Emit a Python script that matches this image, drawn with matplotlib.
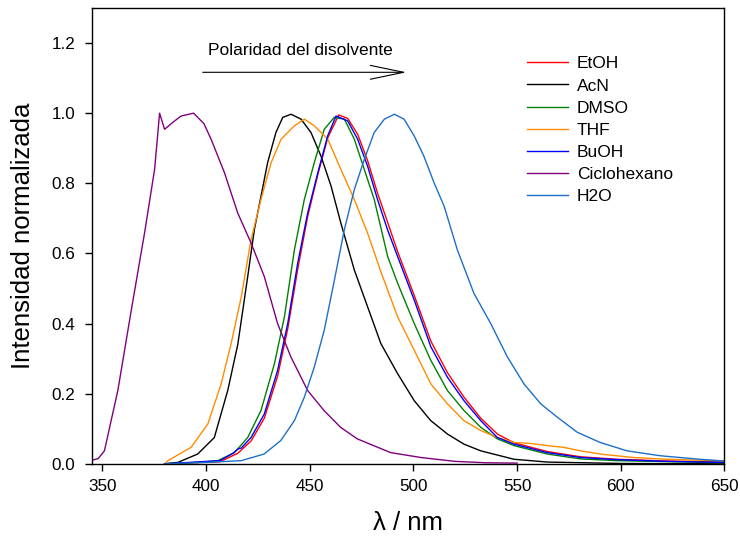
import matplotlib
matplotlib.use("Agg")
import matplotlib.pyplot as plt

plt.rcParams['font.family'] = ['Liberation Sans', 'DejaVu Sans']

# --- data ---
x_ciclo = [345, 348, 351, 357.5, 364, 370.4, 375.2, 377.6, 380, 384, 388, 394, 399, 402.5, 408.9,
           415.3, 421.7, 428.1, 434.5, 440.9, 449, 456.9, 464.9, 473, 489, 503.6, 520, 535, 550]
y_ciclo = [0.01, 0.015, 0.037, 0.21, 0.44, 0.66, 0.84, 1.0, 0.954, 0.974, 0.992, 1.0, 0.97, 0.925, 0.83,
           0.715, 0.63, 0.534, 0.40, 0.305, 0.209, 0.152, 0.104, 0.071, 0.032, 0.018, 0.007, 0.003, 0.002]

x_acn = [380, 386.4, 396, 404, 410.5, 415.3, 420.1, 423.3, 426.5, 429.7, 433.7, 437, 441, 445.8, 450.6,
         455.4, 460.3, 465, 471.5, 477.9, 484.3, 492.4, 500.4, 508.4, 516.4, 524.4, 532.5, 548.5, 564.5, 600, 650]
y_acn = [0.0, 0.004, 0.028, 0.075, 0.21, 0.34, 0.534, 0.668, 0.763, 0.859, 0.945, 0.988, 0.997, 0.983, 0.945,
         0.878, 0.792, 0.687, 0.553, 0.448, 0.343, 0.257, 0.18, 0.123, 0.085, 0.056, 0.037, 0.013, 0.005, 0.001, 0.0]

x_thf = [380, 381.6, 392.8, 400.9, 407.3, 412.1, 417, 421.7, 426.5, 431.4, 436.2, 442.6, 447.4, 452.2, 458.7,
         465, 471.5, 477.9, 484.3, 492.4, 500.4, 508.4, 516.4, 524.4, 532.5, 540.5, 548.5, 556.5, 564.5,
         572.5, 580.6, 590, 606, 622, 646, 650]
y_thf = [0.0, 0.009, 0.047, 0.114, 0.228, 0.343, 0.476, 0.639, 0.754, 0.859, 0.926, 0.964, 0.983, 0.964, 0.926,
         0.84, 0.754, 0.658, 0.548, 0.419, 0.324, 0.228, 0.171, 0.123, 0.095, 0.075, 0.061, 0.058, 0.052,
         0.047, 0.037, 0.028, 0.018, 0.013, 0.009, 0.008]

x_dmso = [380, 396, 405.7, 413.7, 420.1, 426.5, 433, 437.8, 442.6, 447.4, 452.2, 457, 461.8, 466.7, 471.5,
          476.3, 481.1, 487.6, 492.4, 500.4, 508.4, 516.4, 524.4, 532.5, 540.5, 548.5, 564.5, 580.6, 598, 650]
y_dmso = [0.0, 0.004, 0.009, 0.032, 0.075, 0.152, 0.286, 0.419, 0.61, 0.754, 0.859, 0.954, 0.988, 0.983, 0.926,
          0.84, 0.754, 0.591, 0.515, 0.40, 0.295, 0.209, 0.152, 0.104, 0.071, 0.052, 0.028, 0.014, 0.009, 0.003]

x_buoh = [380, 406.7, 413, 415.3, 417, 421.7, 428.1, 434.5, 439.4, 444.2, 449, 453.9, 458.7, 462.7, 468.3,
          473.1, 477.9, 482.7, 487.5, 492.4, 500.4, 508.4, 516.4, 524.4, 532.5, 540.5, 548.5, 564.5, 580.6,
          598, 622, 650]
y_buoh = [0.0, 0.009, 0.03, 0.042, 0.045, 0.075, 0.142, 0.266, 0.40, 0.572, 0.715, 0.83, 0.936, 0.992, 0.978,
          0.926, 0.849, 0.754, 0.668, 0.591, 0.467, 0.334, 0.247, 0.18, 0.123, 0.075, 0.056, 0.032, 0.018,
          0.012, 0.007, 0.004]

x_etoh = [380, 406.7, 415.3, 421.7, 428.1, 434.5, 439.4, 444.2, 449, 453.9, 458.7, 464, 468.3,
          473.1, 477.9, 482.7, 487.5, 492.4, 500.4, 508.4, 516.4, 524.4, 532.5, 540.5, 548.5, 564.5, 580.6,
          598, 622, 650]
y_etoh = [0.0, 0.006, 0.03, 0.065, 0.13, 0.25, 0.385, 0.555, 0.705, 0.825, 0.93, 0.995, 0.985,
          0.94, 0.865, 0.772, 0.69, 0.605, 0.48, 0.35, 0.26, 0.19, 0.13, 0.085, 0.06, 0.035, 0.02,
          0.013, 0.008, 0.005]

x_h2o = [380, 400, 417, 428, 436, 442.6, 447.4, 452.2, 457, 461.9, 466.7, 471.5, 476.3, 481.1, 486, 490.8,
         495.5, 500.4, 505, 510, 514.8, 521.2, 529.2, 537.3, 545.3, 553.3, 561.4, 569.4, 579, 590, 603, 619,
         638, 650]
y_h2o = [0.0, 0.004, 0.009, 0.028, 0.066, 0.123, 0.19, 0.276, 0.381, 0.524, 0.668, 0.782, 0.868, 0.945, 0.983, 0.997,
         0.983, 0.935, 0.878, 0.801, 0.735, 0.61, 0.486, 0.40, 0.305, 0.228, 0.171, 0.133, 0.09, 0.061, 0.037, 0.023,
         0.013, 0.008]

series = [
    ("EtOH", x_etoh, y_etoh, "#ff0000"),
    ("AcN", x_acn, y_acn, "#000000"),
    ("DMSO", x_dmso, y_dmso, "#008000"),
    ("THF", x_thf, y_thf, "#ff8c00"),
    ("BuOH", x_buoh, y_buoh, "#0000ff"),
    ("Ciclohexano", x_ciclo, y_ciclo, "#800080"),
    ("H2O", x_h2o, y_h2o, "#1f6fc6"),
]

x_ticks = [350, 400, 450, 500, 550, 600, 650]
y_ticks = [0.0, 0.2, 0.4, 0.6, 0.8, 1.0, 1.2]

fig = plt.figure(figsize=(7.4, 5.44), dpi=100)
ax = fig.add_axes([0.1243, 0.1474, 0.8547, 0.8379])

for name, xs, ys, c in series:
    ax.plot(xs, ys, color=c, lw=1.0, label=name)

ax.set_xlim(345, 650)
ax.set_ylim(0, 1.3)
ax.set_xticks(x_ticks)
ax.set_yticks(y_ticks)
ax.set_yticklabels([f"{v:.1f}" for v in y_ticks])
ax.tick_params(direction='out', length=5, width=1, labelsize=12.3)
ax.tick_params(axis='x', pad=6)
ax.tick_params(axis='y', pad=7)
for s in ax.spines.values():
    s.set_linewidth(1)

ax.set_xlabel("λ / nm", fontsize=18.5, labelpad=12)
ax.set_ylabel("Intensidad normalizada", fontsize=18.5, labelpad=12)

ax.annotate("", xy=(496.6, 1.1166), xytext=(398.4, 1.1166),
            arrowprops=dict(arrowstyle="->, head_length=1.2, head_width=0.25", color="black",
                            lw=0.8, mutation_scale=20, shrinkA=0, shrinkB=0))
ax.text(401, 1.18, "Polaridad del disolvente", fontsize=12.5, va='center', ha='left')

ax.legend(loc='upper left', bbox_to_anchor=(0.688, 0.894), frameon=False, fontsize=12.5,
          handlelength=2.36, handletextpad=0.5, labelspacing=0.4, borderpad=0, borderaxespad=0)

fig.savefig("out.png", dpi=100)
